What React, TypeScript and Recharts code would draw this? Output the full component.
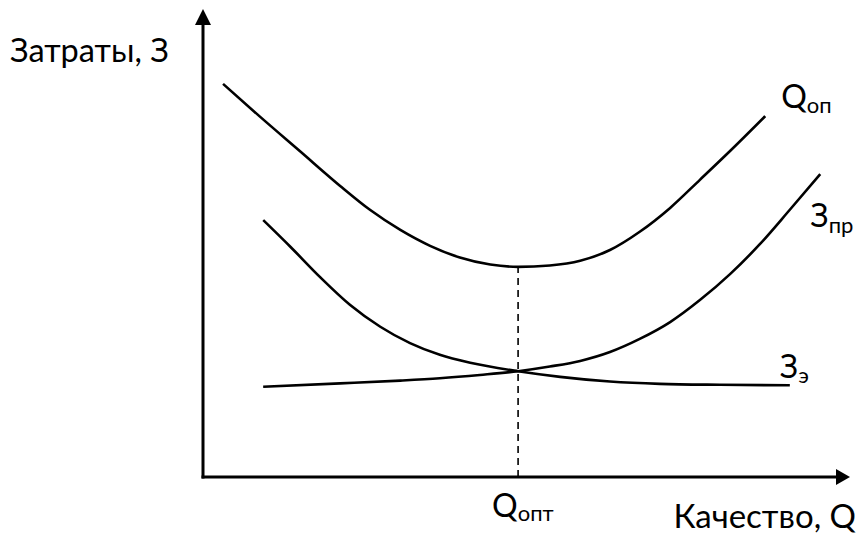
import React from 'react';
import { LineChart, Line, XAxis, YAxis, ReferenceLine, ReferenceDot } from 'recharts';

// Total costs curve (Q_оп)
const totalX = [3.1, 8.8, 15.0, 21.2, 25.8, 30.5, 35.1, 39.7, 44.4, 48.7, 53.6, 58.3, 62.9, 67.5, 72.2, 76.8, 81.5, 86.9];
const totalY = [84.0, 77.0, 69.6, 62.2, 57.1, 52.8, 49.4, 46.9, 45.4, 44.9, 45.2, 46.2, 48.5, 52.4, 57.5, 63.5, 69.7, 77.1];
// Operating costs curve (З_э), falling
const operX = [9.3, 13.5, 18.1, 22.7, 27.4, 32.0, 36.6, 41.3, 48.7, 55.2, 62.9, 70.6, 79.9, 90.7];
const operY = [54.9, 49.2, 42.7, 36.8, 32.1, 28.6, 26.1, 24.4, 22.6, 21.4, 20.4, 19.9, 19.7, 19.6];
// Production costs curve (З_пр), rising
const prodX = [9.3, 21.2, 30.5, 36.6, 42.8, 48.7, 53.6, 58.3, 62.9, 67.5, 72.2, 76.8, 81.5, 86.1, 90.7, 95.4];
const prodY = [19.3, 20.0, 20.6, 21.1, 21.8, 22.6, 23.6, 24.8, 26.7, 29.5, 33.1, 37.8, 43.4, 49.8, 57.1, 64.7];
// Optimum
const optX = 48.7;
const optY = 44.9;

const toData = (xs: number[], ys: number[]) => xs.map((x, i) => ({ x, y: ys[i] }));
const totalData = toData(totalX, totalY);
const operData = toData(operX, operY);
const prodData = toData(prodX, prodY);

const FONT = "Lato, 'Noto Sans', sans-serif";

const textShape = (
  main: string,
  sub: string,
  dx: number,
  dy: number,
  subDy: number,
  anchor: 'start' | 'end' = 'start',
  size = 32
) => (props: any) => (
  <text
    x={props.cx + dx}
    y={props.cy + dy}
    fontFamily={FONT}
    fontSize={size}
    fill="#000"
    textAnchor={anchor}
  >
    <tspan>{main}</tspan>
    {sub ? (
      <tspan fontSize={22} dy={subDy}>
        {sub}
      </tspan>
    ) : null}
  </text>
);

const upArrow = (props: any) => (
  <polygon
    points={`${props.cx},${props.cy} ${props.cx - 8},${props.cy + 16} ${props.cx + 8},${props.cy + 16}`}
    fill="#000"
  />
);
const rightArrow = (props: any) => (
  <polygon
    points={`${props.cx},${props.cy} ${props.cx - 14},${props.cy - 8} ${props.cx - 14},${props.cy + 8}`}
    fill="#000"
  />
);

export default function App() {
  return (
    <div style={{ position: 'absolute', left: 0, top: 0, width: 861, height: 535, background: '#fff' }}>
      <LineChart width={861} height={535} margin={{ top: 9, right: 11, bottom: 58, left: 203 }}>
        <XAxis type="number" dataKey="x" domain={[0, 100]} hide allowDataOverflow />
        <YAxis type="number" dataKey="y" domain={[0, 100]} hide allowDataOverflow />

        <ReferenceLine
          segment={[{ x: 0, y: 0 }, { x: 0, y: 97 }]}
          stroke="#000"
          strokeWidth={3}
          strokeLinecap="square"
        />
        <ReferenceLine
          segment={[{ x: 0, y: 0 }, { x: 98, y: 0 }]}
          stroke="#000"
          strokeWidth={3}
          strokeLinecap="square"
        />
        <ReferenceLine
          segment={[{ x: optX, y: 0 }, { x: optX, y: optY }]}
          stroke="#000"
          strokeWidth={1.6}
          strokeDasharray="7 5"
        />

        <Line data={totalData} dataKey="y" type="monotone" stroke="#000" strokeWidth={2.6} dot={false} isAnimationActive={false} />
        <Line data={operData} dataKey="y" type="monotone" stroke="#000" strokeWidth={2.6} dot={false} isAnimationActive={false} />
        <Line data={prodData} dataKey="y" type="monotone" stroke="#000" strokeWidth={2.6} dot={false} isAnimationActive={false} />

        <ReferenceDot x={0} y={100} r={0} ifOverflow="visible" shape={upArrow} />
        <ReferenceDot x={100} y={0} r={0} ifOverflow="visible" shape={rightArrow} />

        <ReferenceDot x={0} y={100} r={0} ifOverflow="visible" shape={textShape('Затраты, З', '', -193, 53, 0, 'start', 32.5)} />
        <ReferenceDot x={100} y={0} r={0} ifOverflow="visible" shape={textShape('Качество, Q', '', 6, 51, 0, 'end', 33)} />
        <ReferenceDot x={optX} y={0} r={0} ifOverflow="visible" shape={textShape('Q', 'опт', -26, 40, 4)} />
        <ReferenceDot
          x={totalX[totalX.length - 1]}
          y={totalY[totalY.length - 1]}
          r={0}
          ifOverflow="visible"
          shape={textShape('Q', 'оп', 16, -8, 5)}
        />
        <ReferenceDot
          x={prodX[prodX.length - 1]}
          y={prodY[prodY.length - 1]}
          r={0}
          ifOverflow="visible"
          shape={textShape('З', 'пр', -10, 53, 6)}
        />
        <ReferenceDot
          x={operX[operX.length - 1]}
          y={operY[operY.length - 1]}
          r={0}
          ifOverflow="visible"
          shape={textShape('З', 'э', -10, -7, 5)}
        />
      </LineChart>
    </div>
  );
}
